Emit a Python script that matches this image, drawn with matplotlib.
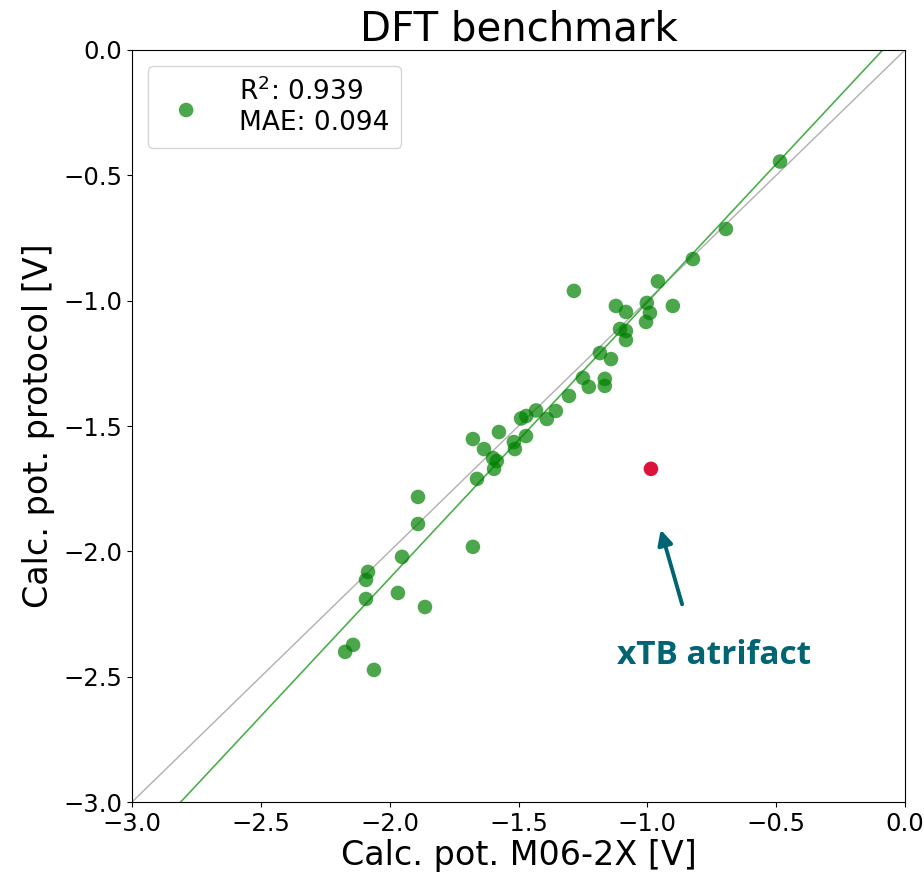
import matplotlib
matplotlib.use("Agg")
import matplotlib.pyplot as plt
import numpy as np

# data
m06_x = [-0.485, -0.695, -0.823, -0.959, -1.285, -0.901, -1.122, -1.002, -0.990, -1.005,
         -1.083, -1.106, -1.083, -1.083, -1.184, -1.141, -1.250, -1.227, -1.165, -1.165,
         -1.304, -1.355, -1.390, -1.432, -1.490, -1.470, -1.576, -1.471, -1.518, -1.514,
         -1.677, -1.634, -1.599, -1.584, -1.595, -1.661, -1.890, -1.890, -1.952, -1.677,
         -2.084, -2.092, -2.092, -1.968, -1.863, -2.142, -2.173, -2.061]
protocol_y = [-0.445, -0.714, -0.834, -0.923, -0.961, -1.021, -1.021, -1.009, -1.049, -1.085,
              -1.045, -1.113, -1.121, -1.157, -1.209, -1.233, -1.308, -1.344, -1.312, -1.340,
              -1.380, -1.440, -1.472, -1.438, -1.470, -1.460, -1.524, -1.540, -1.564, -1.592,
              -1.552, -1.592, -1.628, -1.640, -1.671, -1.711, -1.783, -1.891, -2.022, -1.982,
              -2.082, -2.114, -2.190, -2.166, -2.222, -2.373, -2.401, -2.473]
artifact_x = [-0.986]
artifact_y = [-1.671]
fit_slope = 1.101
fit_intercept = 0.095
legend_label = "R$^2$: 0.939\nMAE: 0.094"
annot_text = "xTB atrifact"

fig = plt.figure(figsize=(9.24, 8.77), dpi=100)
ax = fig.add_axes([0.1429, 0.0855, 0.8365, 0.8575])

line_x = np.array([-3.0, 0.0])
ax.plot(line_x, line_x, color="#b0b0b0", lw=1.0, zorder=1)
ax.plot(line_x, fit_slope * line_x + fit_intercept, color="#4caf4c", lw=1.2, zorder=2)

ax.scatter(m06_x, protocol_y, s=110, color="green", alpha=0.7, edgecolors="none",
           label=legend_label, zorder=3)
ax.scatter(artifact_x, artifact_y, s=110, color="crimson", edgecolors="none", zorder=4)

ax.set_xlim(-3, 0)
ax.set_ylim(-3, 0)
ax.set_xticks(np.arange(-3, 0.01, 0.5))
ax.set_yticks(np.arange(-3, 0.01, 0.5))
ax.tick_params(labelsize=17.5)
ax.set_title("DFT benchmark", fontsize=29, pad=3)
ax.set_xlabel("Calc. pot. M06-2X [V]", fontsize=24, labelpad=2)
ax.set_ylabel("Calc. pot. protocol [V]", fontsize=24, labelpad=6)

leg = ax.legend(loc="upper left", fontsize=19, handletextpad=1.0, borderpad=0.45,
                markerscale=1.0, handlelength=2.0, borderaxespad=0.6)

ax.annotate("", xy=(-0.951, -1.903), xytext=(-0.862, -2.222),
            arrowprops=dict(arrowstyle="-|>", color="#006473", lw=2.8, mutation_scale=22))
ax.text(-0.742, -2.417, annot_text, fontsize=24, fontweight="bold", color="#006473",
        family="Open Sans", ha="center", va="center")

fig.savefig("out.png", dpi=100)
